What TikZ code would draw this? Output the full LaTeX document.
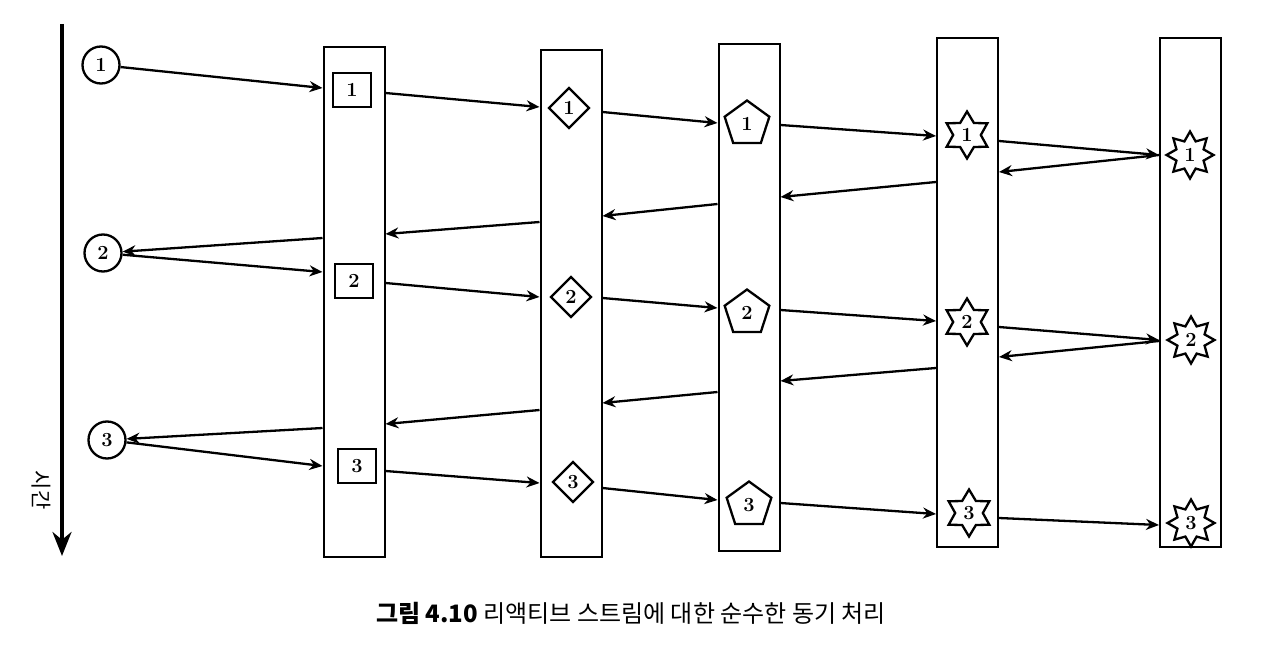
\documentclass[tikz,border=0pt]{standalone}
\usepackage{fontspec}
\newfontfamily\kr{Noto Sans CJK KR}
\usetikzlibrary{shapes.geometric,arrows.meta}
\begin{document}
\begin{tikzpicture}[x=1pt,y=-1pt,
  col/.style={draw,line width=2pt,minimum width=61pt,inner sep=0pt},
  item/.style={draw,line width=2.3pt,font=\bfseries\fontsize{20}{20}\selectfont,inner sep=0pt},
  circ/.style={item,circle,minimum size=37pt},
  sq/.style={item,rectangle,minimum width=38pt,minimum height=34pt},
  dia/.style={item,diamond,minimum size=41pt},
  pent/.style={item,regular polygon,regular polygon sides=5,minimum size=47pt},
  sixstar/.style={item,star,star points=6,star point ratio=1.7,minimum size=47pt},
  eightstar/.style={item,star,star points=8,star point ratio=1.6,minimum size=47pt},
  arr/.style={line width=2.3pt,-{Stealth[length=13pt,width=11pt]}},
  timearr/.style={line width=3.8pt,-{Stealth[length=24pt,width=19pt]}}]
\useasboundingbox (0,0) rectangle (1276,650);
% time axis
\coordinate (tstart) at (62,24);
\coordinate (tend) at (62,556);
\draw[timearr] (tstart) -- (tend);
\node[rotate=-90,font=\kr\fontsize{21}{21}\selectfont] (tlabel) at (41,490) {시간};
% columns
\node[col,minimum height=510pt] (c1) at (354,302) {};
\node[col,minimum height=507pt] (c2) at (571,303.5) {};
\node[col,minimum height=507pt] (c3) at (749,297.5) {};
\node[col,minimum height=509pt] (c4) at (967.5,292.5) {};
\node[col,minimum height=509pt] (c5) at (1190.5,292.5) {};
% circles
\node[circ] (t1) at (101,65) {1};
\node[circ] (t2) at (103,253) {2};
\node[circ] (t3) at (107,440) {3};
% squares
\node[sq] (s1) at (352,90) {1};
\node[sq] (s2) at (354,281) {2};
\node[sq] (s3) at (357,466) {3};
% diamonds
\node[dia] (d1) at (569,108) {1};
\node[dia] (d2) at (571,297) {2};
\node[dia] (d3) at (573,482) {3};
% pentagons
\node[pent] (p1) at (747,124) {1};
\node[pent] (p2) at (747,313) {2};
\node[pent] (p3) at (749,505) {3};
% six-point stars
\node[sixstar] (h1) at (967,135) {1};
\node[sixstar] (h2) at (967,322) {2};
\node[sixstar] (h3) at (969,513) {3};
% eight-point stars
\node[eightstar] (e1) at (1190,155) {1};
\node[eightstar] (e2) at (1191,340) {2};
\node[eightstar] (e3) at (1191,523) {3};
% row 1 forward
\draw[arr] (t1) -- (c1.west |- 0,88);
\draw[arr] (c1.east |- 0,93) -- (c2.west |- 0,107);
\draw[arr] (c2.east |- 0,112) -- (c3.west |- 0,123);
\draw[arr] (c3.east |- 0,125) -- (c4.west |- 0,136);
\draw[arr] (c4.east |- 0,141) -- (c5.west |- 0,155);
% row 1 back
\draw[arr] (c5.west |- 0,155) -- (c4.east |- 0,172);
\draw[arr] (c4.west |- 0,182) -- (c3.east |- 0,197);
\draw[arr] (c3.west |- 0,204) -- (c2.east |- 0,216);
\draw[arr] (c2.west |- 0,222) -- (c1.east |- 0,234);
\draw[arr] (c1.west |- 0,238) -- (t2);
% row 2 forward
\draw[arr] (t2) -- (c1.west |- 0,272);
\draw[arr] (c1.east |- 0,283) -- (c2.west |- 0,297);
\draw[arr] (c2.east |- 0,298) -- (c3.west |- 0,308);
\draw[arr] (c3.east |- 0,310) -- (c4.west |- 0,321);
\draw[arr] (c4.east |- 0,327) -- (c5.west |- 0,340);
% row 2 back
\draw[arr] (c5.west |- 0,341) -- (c4.east |- 0,357);
\draw[arr] (c4.west |- 0,368) -- (c3.east |- 0,381);
\draw[arr] (c3.west |- 0,392) -- (c2.east |- 0,403);
\draw[arr] (c2.west |- 0,410) -- (c1.east |- 0,424);
\draw[arr] (c1.west |- 0,428) -- (t3);
% row 3 forward
\draw[arr] (t3) -- (c1.west |- 0,466);
\draw[arr] (c1.east |- 0,471) -- (c2.west |- 0,483);
\draw[arr] (c2.east |- 0,488) -- (c3.west |- 0,500);
\draw[arr] (c3.east |- 0,503) -- (c4.west |- 0,514);
\draw[arr] (c4.east |- 0,518) -- (c5.west |- 0,525);
% caption
\node[font=\kr\fontsize{24}{24}\selectfont] (cap) at (631,613) {{\bfseries 그림 4.10} 리액티브 스트림에 대한 순수한 동기 처리};
\end{tikzpicture}
\end{document}
